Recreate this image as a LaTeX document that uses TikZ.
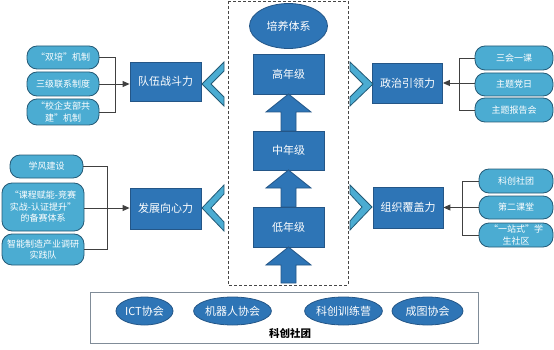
\documentclass[tikz,border=0pt]{standalone}
\usepackage{fontspec}
\setmainfont{Noto Sans CJK SC}
\usetikzlibrary{arrows.meta,shapes.geometric}
\definecolor{boxblue}{RGB}{46,117,182}
\definecolor{boxline}{RGB}{36,86,135}
\definecolor{pillblue}{RGB}{75,172,210}
\definecolor{pillline}{RGB}{36,90,118}
\definecolor{connc}{RGB}{64,64,64}
\definecolor{dashgray}{RGB}{70,70,70}
\definecolor{framegray}{RGB}{128,140,152}
\tikzset{
 mainbox/.style={draw=boxline, fill=boxblue, line width=0.8pt, text=white, font=\fontsize{11}{13}\selectfont, minimum width=71pt, minimum height=40pt, inner sep=0pt},
 pill/.style={draw=pillline, fill=pillblue, line width=0.8pt, rounded corners=10pt, text=white, font=\fontsize{9}{11.5}\selectfont, align=center, inner sep=0pt},
 oval/.style={ellipse, draw=boxline, fill=boxblue, line width=0.8pt, text=white, font=\fontsize{11}{13}\selectfont, inner sep=0pt},
 chev/.style={draw=pillline, fill=pillblue, line width=0.8pt, line join=miter},
 uparr/.style={draw=boxline, fill=boxblue, line width=0.8pt},
 connl/.style={draw=connc, line width=0.9pt},
 arr/.style={connl, -{Triangle[length=7pt,width=6pt]}},
}
\newcommand\blockup[2]{\draw[uparr] (288.5,#1) -- (311,{#1+18}) -- (296,{#1+18}) -- (296,#2) -- (281,#2) -- (281,{#1+18}) -- (266,{#1+18}) -- cycle;}
\begin{document}
\begin{tikzpicture}[x=1pt,y=-1pt]
\useasboundingbox (0,0) rectangle (554,350);
% dashed frame
\draw[dashgray, line width=0.8pt, dash pattern=on 3pt off 2pt] (228,1) rectangle (348,285);
% center column
\node[oval, minimum width=78pt, minimum height=45pt] (top) at (288.5,26) {培养体系};
\node[mainbox] (g3) at (288.5,74) {高年级};
\node[mainbox, minimum height=39pt] (g2) at (288.5,150.5) {中年级};
\node[mainbox] (g1) at (288.5,227) {低年级};
\blockup{94}{131}
\blockup{170}{207}
\blockup{247}{283}
% side boxes
\node[mainbox, minimum height=39pt] (L1) at (165.5,81.5) {队伍战斗力};
\node[mainbox, minimum height=41pt] (L2) at (165.5,208.5) {发展向心力};
\node[mainbox, minimum width=70pt] (R1) at (407.5,83) {政治引领力};
\node[mainbox, minimum width=70pt, minimum height=41pt] (R2) at (408,207.5) {组织覆盖力};
% chevrons
\draw[chev] (224,62) -- (202,84) -- (224,106) -- (224,97) -- (211,84) -- (224,71) -- cycle;
\draw[chev] (224,185) -- (202,208) -- (224,231) -- (224,222) -- (211,208) -- (224,194) -- cycle;
\draw[chev] (350,62) -- (373,84) -- (350,106) -- (350,97) -- (363,84) -- (350,71) -- cycle;
\draw[chev] (350,185) -- (372,207) -- (350,230) -- (350,221) -- (362,207) -- (350,194) -- cycle;
% left upper pills
\node[pill, minimum width=72pt, minimum height=23pt] (pa) at (63,57.5) {“双培”机制};
\node[pill, minimum width=72pt, minimum height=24pt] (pb) at (63,84) {三级联系制度};
\node[pill, minimum width=72pt, minimum height=26pt] (pc) at (63,112) {“校企支部共\\建”机制};
\coordinate (jL1) at (115,84);
\draw[connl] (pa.east) -| (jL1);
\draw[connl] (pc.east) -| (jL1);
\draw[connl] (pb.east) -- (jL1);
\draw[arr] (jL1) -- (jL1 -| L1.west);
% left lower pills
\node[pill, minimum width=73pt, minimum height=23pt] (pd) at (46.5,166.5) {学风建设};
\node[pill, minimum width=82pt, minimum height=48pt] (pe) at (43,207) {“课程赋能-竞赛\\实战-认证提升”\\的备赛体系};
\node[pill, minimum width=82pt, minimum height=31pt] (pf) at (43,249.5) {智能制造产业调研\\实践队};
\coordinate (jL2) at (107,208);
\draw[connl] (pd.east) -| (jL2);
\draw[connl] (pf.east) -| (jL2);
\draw[connl] (pe.east |- jL2) -- (jL2);
\draw[arr] (jL2) -- (jL2 -| L2.west);
% right upper pills
\node[pill, minimum width=78pt, minimum height=24pt] (pg) at (514,58) {三会一课};
\node[pill, minimum width=78pt, minimum height=23pt] (ph) at (514,84.5) {主题党日};
\node[pill, minimum width=78pt, minimum height=24pt] (pi) at (514,110) {主题报告会};
\coordinate (jR1) at (459,83);
\draw[connl] (pg.west) -| (jR1);
\draw[connl] (pi.west) -| (jR1);
\draw[connl] (ph.west |- jR1) -- (jR1);
\draw[arr] (jR1) -- (jR1 -| R1.east);
% right lower pills
\node[pill, minimum width=74pt, minimum height=24pt] (pj) at (516,181) {科创社团};
\node[pill, minimum width=74pt, minimum height=23pt] (pk) at (516,207.5) {第二课堂};
\node[pill, minimum width=74pt, minimum height=24pt] (pl) at (516,235) {“一站式”学\\生社区};
\coordinate (jR2) at (462,207.5);
\draw[connl] (pj.west) -| (jR2);
\draw[connl] (pl.west) -| (jR2);
\draw[connl] (pk.west) -- (jR2);
\draw[arr] (jR2) -- (jR2 -| R2.east);
% bottom frame
\node[draw=framegray, line width=1pt, minimum width=388pt, minimum height=51pt, inner sep=0pt] (frame) at (284,317.5) {};
\node[oval, minimum width=57pt, minimum height=28pt] (e1) at (144.5,311) {ICT协会};
\node[oval, minimum width=71pt, minimum height=28pt] (e2) at (232.5,311) {机器人协会};
\node[oval, minimum width=73pt, minimum height=28pt] (e3) at (343.5,311) {科创训练营};
\node[oval, minimum width=71pt, minimum height=28pt] (e4) at (427.5,311) {成图协会};
\node[font=\fontsize{10.5}{12}\selectfont\bfseries, inner sep=0pt] (ftitle) at (290,333.5) {科创社团};
\end{tikzpicture}
\end{document}
